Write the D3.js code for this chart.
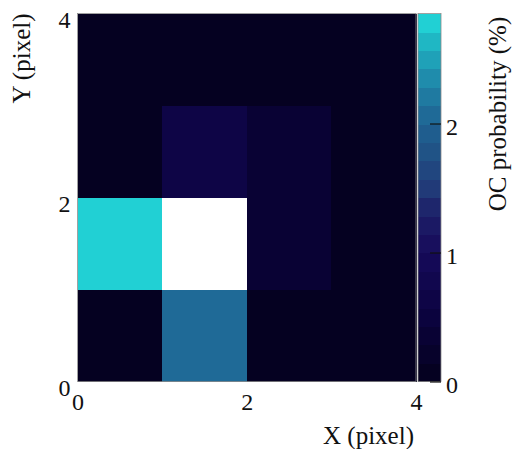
<!DOCTYPE html>
<html>
<head>
<meta charset="utf-8">
<script src="https://cdn.jsdelivr.net/npm/d3@7/dist/d3.min.js"></script>
<style>
  html, body { margin: 0; padding: 0; background: #fff; }
  svg { display: block; }
  text { font-family: "Liberation Serif", "Times New Roman", serif; fill: #111; }
</style>
</head>
<body>
<svg id="chart" width="520" height="449"></svg>
<script>
// ---- data ----
const xBins = [0, 1, 2, 3];             // pixel column (left edge)
const yBins = [0, 1, 2, 3];             // pixel row (bottom edge)
// OC probability (%) per cell, rows by y (0..3), columns by x (0..3)
const row0 = [0.02, 2.05, 0.01, 0.01];
const row1 = [2.80, 3.20, 0.30, 0.03];
const row2 = [0.03, 0.60, 0.35, 0.03];
const row3 = [0.02, 0.04, 0.03, 0.02];
const rows = [row0, row1, row2, row3];
const axisTicks = [0, 2, 4];
const cbarTicks = [0, 1, 2];
const cbarMax = 2.853;
const nBands = 20;
const xLabel = "X (pixel)";
const yLabel = "Y (pixel)";
const cbarLabel = "OC probability (%)";

// ---- layout ----
const svg = d3.select("#chart");
const L = 77.5, R = 416, T = 13.5, B = 381.5;
const cbL = 418, cbR = 441;

const x = d3.scaleLinear().domain([0, 4]).range([L, R]);
const y = d3.scaleLinear().domain([0, 4]).range([B, T]);
const yc = d3.scaleLinear().domain([0, cbarMax]).range([B, T]);

// colormap (value -> colour)
const stopVals = [0, 0.5, 1.0, 1.3, 1.5, 1.8, 2.0, 2.3, 2.6, cbarMax];
const stopCols = ["#04011c", "#0b033e", "#160a5a", "#1d1f68", "#213a78",
                  "#205487", "#1f6292", "#1f84a8", "#1fb0c0", "#22dcdc"];
const cont = d3.scaleLinear().domain(stopVals).range(stopCols)
  .interpolate(d3.interpolateRgb).clamp(true);
const bandW = cbarMax / nBands;
function colour(v) {
  if (v > cbarMax) return "#ffffff";
  const i = Math.min(nBands - 1, Math.floor(v / bandW));
  return cont((i + 0.5) * bandW);
}

// ---- cells ----
const cells = [];
rows.forEach((r, j) => r.forEach((v, i) => cells.push({ x: xBins[i], y: yBins[j], v })));
svg.append("g").attr("shape-rendering", "crispEdges")
  .selectAll("rect").data(cells).join("rect")
  .attr("x", d => x(d.x))
  .attr("y", d => y(d.y + 1))
  .attr("width", d => x(d.x + 1) - x(d.x) + 0.6)
  .attr("height", d => y(d.y) - y(d.y + 1) + 0.6)
  .attr("fill", d => colour(d.v));

// frame
svg.append("rect").attr("x", L).attr("y", T).attr("width", R - L).attr("height", B - T)
  .attr("fill", "none").attr("stroke", "#8a8a8a").attr("stroke-width", 0.8);

// axes
const xAxis = svg.append("g").attr("transform", `translate(0,${B})`)
  .call(d3.axisBottom(x).tickValues(axisTicks).tickSize(0).tickPadding(11).tickFormat(d3.format("d")));
xAxis.select(".domain").remove();
xAxis.selectAll("text").style("font-size", "24px").style("font-family", "Liberation Serif");

const yAxis = svg.append("g").attr("transform", `translate(${L},0)`)
  .call(d3.axisLeft(y).tickValues(axisTicks).tickSize(0).tickPadding(7).tickFormat(d3.format("d")));
yAxis.select(".domain").remove();
yAxis.selectAll("text").attr("dy", "0.58em").style("font-size", "24px").style("font-family", "Liberation Serif");

// axis labels
svg.append("text").attr("x", R - 2).attr("y", 444).attr("text-anchor", "end")
  .style("font-size", "25px").text(xLabel);
svg.append("text").attr("transform", `translate(30,${T}) rotate(-90)`)
  .attr("text-anchor", "end").style("font-size", "25px").text(yLabel);

// ---- colorbar ----
const bands = d3.range(nBands);
svg.append("g").attr("shape-rendering", "crispEdges")
  .selectAll("rect").data(bands).join("rect")
  .attr("x", cbL)
  .attr("y", i => yc((i + 1) * bandW))
  .attr("width", cbR - cbL)
  .attr("height", i => yc(i * bandW) - yc((i + 1) * bandW) + 0.6)
  .attr("fill", i => cont((i + 0.5) * bandW));
svg.append("rect").attr("x", cbL).attr("y", T).attr("width", cbR - cbL).attr("height", B - T)
  .attr("fill", "none").attr("stroke", "#8a8a8a").attr("stroke-width", 0.8);

const cAxis = svg.append("g").attr("transform", `translate(${cbR},0)`)
  .call(d3.axisRight(yc).tickValues(cbarTicks).tickSizeInner(-11).tickSizeOuter(0)
    .tickPadding(5).tickFormat(d3.format("d")));
cAxis.select(".domain").remove();
cAxis.selectAll("line").attr("stroke", "#111").attr("stroke-width", 1.2);
cAxis.selectAll("text").attr("dy", "0.45em").style("font-size", "24px").style("font-family", "Liberation Serif");

svg.append("text").attr("transform", `translate(506,${114}) rotate(-90)`)
  .attr("text-anchor", "middle").style("font-size", "25px").text(cbarLabel);
</script>
</body>
</html>
